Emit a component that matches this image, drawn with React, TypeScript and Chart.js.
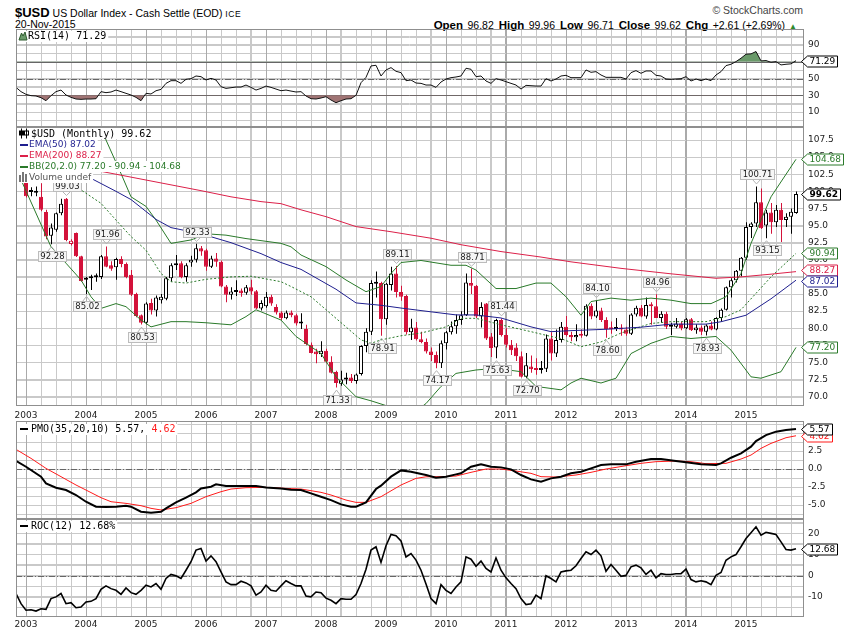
import React, { useEffect, useRef } from 'react';
import { Chart, registerables } from 'chart.js';

Chart.register(...registerables);

// ---------------- data ----------------
const symbol = '$USD';
const title = 'US Dollar Index - Cash Settle (EOD)';
const exchange = 'ICE';
const asOf = '20-Nov-2015';
const yearLabels = ['2003', '2004', '2005', '2006', '2007', '2008', '2009', '2010', '2011', '2012', '2013', '2014', '2015'];

// monthly candles, Nov 2002 (index 0) .. Nov 2015 (index 156)
const openP = [
  105.4, 106.3, 101.9, 100.0, 99.8, 99.2, 97.0, 93.5, 94.4, 96.8,
  98.9, 92.3, 93.9, 90.5, 87.1, 87.3, 87.45, 87.5, 90.5, 89.2,
  88.9, 90.1, 89.4, 87.8, 85.0, 81.9, 80.8, 83.7, 82.6, 84.1,
  84.3, 87.3, 89.2, 89.5, 87.5, 89.6, 90.0, 91.7, 91.4, 89.0,
  90.2, 89.7, 86.1, 84.9, 85.3, 85.5, 85.2, 86.0, 85.4, 82.9,
  83.2, 84.6, 83.1, 82.3, 81.45, 82.3, 81.9, 80.7, 79.9, 77.6,
  76.6, 76.2, 76.7, 75.1, 73.6, 71.9, 72.5, 72.8, 72.3, 73.3,
  77.4, 79.5, 86.5, 86.6, 81.3, 86.3, 88.0, 85.3, 84.7, 79.4,
  80.1, 78.4, 78.0, 76.6, 76.1, 74.9, 77.8, 79.4, 80.3, 81.2,
  81.9, 86.6, 86.2, 81.7, 83.6, 78.8, 77.2, 81.2, 79.0, 77.6,
  77.2, 75.9, 72.9, 74.4, 74.2, 73.9, 74.1, 78.5, 76.3, 78.3,
  80.2, 79.0, 78.7, 79.0, 78.9, 83.3, 81.7, 82.6, 81.2, 80.0,
  79.9, 80.1, 79.8, 79.2, 82.0, 83.0, 81.7, 83.4, 83.2, 81.5,
  82.1, 80.4, 80.2, 80.7, 80.0, 81.3, 79.7, 80.1, 79.5, 80.4,
  79.8, 81.5, 82.7, 86.0, 87.0, 88.4, 90.3, 94.8, 95.3, 98.4,
  95.0, 96.9, 95.5, 97.3, 95.8, 96.3, 96.82,
];
const highP = [
  107.0, 106.5, 102.1, 100.6, 100.7, 101.2, 97.3, 95.3, 96.9, 98.9,
  99.03, 93.0, 94.0, 90.6, 87.5, 87.8, 88.0, 90.7, 91.96, 89.8,
  90.3, 90.5, 89.6, 88.5, 85.2, 82.0, 83.8, 84.3, 84.8, 85.0,
  87.5, 89.5, 90.7, 89.8, 89.5, 90.6, 92.33, 92.0, 91.6, 90.6,
  91.0, 89.9, 86.3, 86.0, 87.0, 85.8, 86.3, 87.1, 85.6, 84.1,
  85.3, 84.9, 83.5, 82.5, 82.6, 82.6, 82.1, 82.2, 80.5, 77.9,
  77.0, 78.1, 77.0, 75.9, 73.8, 73.8, 73.5, 73.3, 73.4, 77.5,
  80.0, 87.0, 88.3, 86.8, 86.6, 89.0, 89.11, 86.2, 84.9, 81.4,
  80.9, 79.5, 78.5, 77.2, 76.6, 78.2, 79.6, 81.0, 82.0, 82.5,
  88.0, 88.71, 86.3, 83.8, 83.7, 79.3, 81.4, 81.44, 80.0, 78.3,
  77.8, 76.6, 76.4, 76.0, 75.6, 75.2, 79.1, 79.4, 79.8, 80.9,
  81.8, 79.5, 80.6, 79.8, 83.5, 83.6, 84.10, 83.0, 81.6, 81.0,
  81.5, 80.6, 80.2, 82.2, 83.3, 83.4, 84.5, 83.8, 84.96, 82.5,
  82.4, 80.8, 81.5, 81.0, 81.5, 81.5, 80.6, 80.4, 80.6, 81.0,
  81.6, 82.9, 86.1, 87.3, 88.5, 90.4, 95.5, 95.5, 100.71, 100.4,
  97.3, 98.3, 98.0, 98.3, 96.8, 97.5, 99.96,
];
const lowP = [
  105.0, 101.8, 99.1, 99.3, 99.3, 97.1, 93.0, 92.28, 94.1, 96.5,
  92.7, 92.1, 90.4, 86.8, 85.02, 85.6, 86.8, 87.2, 88.9, 88.4,
  87.1, 88.9, 87.3, 84.7, 81.6, 80.53, 80.6, 82.0, 81.7, 83.6,
  84.1, 86.8, 88.5, 87.3, 86.8, 89.0, 89.6, 90.6, 88.4, 88.8,
  89.0, 86.0, 83.8, 84.2, 84.7, 84.6, 84.9, 84.9, 82.8, 82.6,
  83.0, 83.3, 82.0, 81.2, 81.3, 81.6, 80.4, 79.9, 77.5, 76.3,
  74.9, 75.8, 74.9, 73.4, 71.33, 71.6, 71.8, 72.0, 71.9, 73.1,
  76.5, 79.0, 84.5, 78.91, 80.5, 85.5, 84.5, 84.0, 79.1, 78.3,
  78.2, 77.8, 76.3, 75.2, 74.17, 74.2, 76.9, 79.1, 79.2, 80.5,
  81.8, 85.0, 81.5, 80.1, 78.3, 75.8, 75.63, 78.8, 77.2, 76.1,
  75.2, 72.8, 72.70, 73.5, 73.2, 73.4, 73.6, 75.3, 75.8, 77.9,
  78.8, 78.1, 78.1, 78.6, 78.8, 81.3, 81.5, 80.9, 78.60, 79.2,
  79.6, 78.9, 78.9, 79.0, 81.7, 81.6, 81.4, 80.5, 81.6, 80.8,
  79.9, 79.0, 80.0, 79.7, 79.9, 79.6, 79.2, 79.0, 78.93, 79.7,
  79.7, 81.0, 82.6, 84.5, 86.7, 87.6, 90.0, 93.2, 94.8, 94.5,
  93.15, 93.8, 94.8, 92.6, 94.8, 93.8, 96.71,
];
const closeP = [
  106.3, 102.0, 99.3, 99.9, 99.9, 97.3, 93.4, 94.7, 96.8, 98.2,
  92.9, 92.8, 90.5, 86.9, 87.3, 87.5, 87.6, 90.5, 89.0, 88.7,
  90.1, 89.4, 87.5, 84.9, 81.8, 80.8, 83.6, 82.6, 84.5, 84.6,
  87.3, 89.2, 89.5, 87.5, 89.2, 90.0, 91.7, 91.2, 89.0, 90.2,
  89.7, 86.1, 84.9, 85.35, 85.45, 85.1, 86.0, 85.35, 82.9, 83.7,
  84.6, 83.6, 82.3, 81.45, 82.3, 81.9, 80.7, 80.8, 77.7, 76.4,
  76.2, 76.7, 75.1, 73.5, 72.0, 72.5, 72.8, 72.3, 73.25, 77.4,
  79.5, 86.6, 86.7, 81.3, 86.5, 88.0, 85.3, 84.6, 79.4, 80.1,
  78.4, 78.0, 76.6, 76.1, 74.9, 77.8, 79.4, 80.3, 81.2, 81.9,
  86.7, 86.2, 81.7, 83.1, 78.5, 77.1, 81.2, 79.0, 77.6, 76.8,
  75.9, 72.9, 74.6, 74.0, 73.9, 74.1, 78.5, 76.3, 78.3, 80.2,
  79.0, 78.7, 79.0, 78.9, 83.3, 81.7, 82.6, 81.2, 79.9, 79.85,
  80.1, 79.8, 79.2, 82.0, 83.0, 81.7, 83.4, 83.2, 81.5, 82.1,
  80.2, 80.2, 80.7, 80.0, 81.3, 79.7, 80.1, 79.5, 80.4, 79.8,
  81.5, 82.7, 86.0, 87.0, 88.4, 90.3, 94.8, 95.3, 98.4, 94.6,
  96.9, 95.5, 97.3, 95.8, 96.3, 97.01, 99.62,
];

// overlays [monthIndex, value]
const ema50Pts = [[0, 107.5], [15, 101.9], [20, 100.0], [23, 98.8], [28, 95.9], [31, 94.7], [37, 93.8], [43, 92.5], [49, 90.9], [53, 89.6], [57, 88.6], [64, 85.7], [68, 83.7], [73, 83.35], [77, 82.95], [83, 82.4], [88, 81.95], [92, 81.94], [97, 81.5], [103, 80.2], [107, 79.5], [111, 79.65], [118, 79.85], [125, 80.15], [131, 80.6], [138, 80.6], [141, 80.95], [146, 81.9], [151, 84.3], [156, 87.02]];
const ema200Pts = [[0, 105.3], [20, 102.5], [37, 100.1], [43, 99.2], [49, 98.5], [53, 98.2], [57, 97.3], [62, 96.3], [68, 94.85], [75, 94.1], [83, 93.15], [89, 92.2], [97, 91.2], [105, 90.4], [111, 89.7], [121, 88.75], [131, 87.95], [140, 87.3], [145, 87.5], [151, 87.9], [156, 88.27]];
const bbUpperPts = [[17, 110.5], [18, 107.5], [21, 102.6], [23, 99.2], [26, 97.8], [28, 95.8], [31, 92.4], [35, 92.9], [38, 93.8], [42, 93.6], [46, 93.1], [53, 92.4], [55, 91.9], [57, 90.7], [62, 89.0], [66, 87.05], [70, 85.34], [73, 86.1], [75, 88.0], [77, 89.6], [81, 89.9], [87, 89.2], [90, 89.2], [92, 88.5], [96, 85.8], [100, 85.8], [104, 86.6], [107, 86.6], [110, 84.6], [113, 81.9], [115, 83.9], [119, 84.4], [123, 84.1], [127, 84.4], [131, 84.1], [135, 83.6], [139, 83.6], [142, 84.6], [145, 88.0], [147, 92.4], [151, 99.2], [156, 104.68]];
const bbMidPts = [[8, 102.8], [12, 100.7], [17, 98.25], [20, 95.8], [23, 93.4], [26, 91.4], [29, 88.0], [31, 86.8], [34, 86.6], [38, 87.15], [43, 87.5], [47, 87.6], [53, 86.8], [55, 86.1], [59, 84.6], [64, 81.45], [69, 78.3], [71, 77.8], [73, 78.3], [77, 78.9], [81, 79.3], [86, 80.2], [89, 81.45], [92, 81.45], [97, 80.5], [103, 79.5], [107, 78.8], [109, 78.5], [113, 77.3], [117, 78.0], [121, 79.3], [127, 80.7], [131, 80.96], [138, 80.96], [142, 81.7], [145, 82.7], [148, 85.1], [151, 87.5], [156, 90.94]];
const bbLowerPts = [[1, 101.7], [7, 91.9], [10, 89.5], [13, 87.05], [15, 84.6], [17, 82.9], [20, 83.6], [22, 83.15], [25, 81.2], [27, 80.2], [31, 80.96], [34, 80.96], [38, 80.8], [43, 80.5], [46, 81.7], [48, 82.7], [53, 81.2], [56, 78.8], [61, 76.3], [64, 72.9], [68, 70.0], [71, 69.4], [74, 68.7], [77, 67.6], [80, 67.9], [82, 69.0], [85, 71.5], [88, 73.4], [92, 73.9], [96, 74.15], [101, 73.65], [104, 71.5], [107, 71.2], [109, 71.0], [111, 72.0], [113, 72.7], [117, 72.0], [120, 72.7], [123, 76.3], [127, 77.8], [131, 78.8], [135, 78.5], [140, 78.8], [143, 76.8], [147, 72.9], [149, 72.7], [153, 73.65], [156, 77.2]];

const rsiVals = [
  39.4, 34.3, 31.1, 29.5, 29.1, 27.1, 23.5, 29.5, 34.3, 36.2,
  30.3, 27.5, 25.5, 25.1, 25.5, 25.5, 25.9, 34.3, 33.1, 33.9,
  36.2, 34.3, 32.3, 30.3, 27.5, 23.5, 32.3, 31.5, 35.4, 37.0,
  44.2, 47.4, 47.4, 44.2, 49.0, 49.8, 53.0, 52.2, 48.2, 50.2,
  48.2, 40.2, 38.2, 39.0, 39.8, 39.8, 42.2, 39.4, 36.2, 38.2,
  41.0, 39.4, 37.4, 35.4, 36.2, 35.0, 33.9, 34.3, 29.1, 25.9,
  25.5, 26.7, 28.3, 24.3, 21.1, 23.5, 25.5, 25.9, 29.9, 45.0,
  51.4, 65.0, 65.8, 53.0, 60.2, 63.0, 58.6, 57.0, 47.4, 48.2,
  44.6, 44.2, 42.2, 42.2, 39.4, 45.8, 49.4, 51.0, 51.8, 53.0,
  62.2, 61.0, 52.2, 53.0, 47.0, 44.2, 49.8, 48.2, 46.2, 44.2,
  42.2, 37.4, 41.8, 41.4, 41.0, 41.0, 49.8, 47.0, 49.4, 53.0,
  53.8, 51.0, 51.0, 51.0, 60.2, 57.4, 58.2, 54.2, 51.4, 51.4,
  51.4, 51.4, 49.4, 57.0, 59.4, 56.2, 59.0, 59.0, 53.8, 53.0,
  49.4, 49.0, 49.4, 49.8, 52.2, 47.0, 49.4, 47.4, 49.4, 47.4,
  54.2, 58.2, 65.4, 67.0, 70.2, 74.2, 79.0, 79.4, 82.2, 71.0,
  71.4, 69.4, 70.2, 66.2, 67.0, 67.5, 71.29,
];
const rocVals = [
  -8.5, -13.3, -16.4, -16.2, -16.8, -15.7, -16.0, -10.9, -10.1, -8.5,
  -13.3, -12.8, -15.2, -14.9, -12.5, -12.2, -10.9, -6.5, -4.9, -6.2,
  -7.0, -8.9, -5.9, -8.1, -8.9, -7.0, -4.6, -5.4, -3.8, -6.5,
  -1.4, 0.5, -0.1, -1.4, 2.5, 6.5, 12.0, 12.8, 6.8, 9.3,
  6.5, 1.7, -3.0, -4.3, -4.3, -2.7, -3.5, -4.9, -9.3, -7.8,
  -4.6, -7.0, -7.4, -4.9, -2.5, -3.8, -4.9, -4.9, -9.7, -10.1,
  -7.8, -8.1, -10.7, -11.7, -13.3, -10.9, -11.2, -11.2, -9.0, -3.8,
  3.0, 12.0, 13.6, 6.2, 14.1, 19.4, 18.8, 16.3, 8.8, 10.4,
  7.3, 2.5, -4.0, -10.9, -13.3, -4.3, -7.0, -8.5, -5.4, -3.0,
  8.8, 7.7, 4.4, 6.8, 3.3, 1.7, 8.3, 2.5, -1.1, -3.8,
  -6.2, -10.9, -13.7, -13.3, -9.3, -10.9, -0.1, -1.4, -3.0, 1.7,
  2.2, 2.5, 4.6, 8.0, 11.2, 9.9, 12.0, 9.3, 2.0, 5.2,
  2.5, -0.4, 0.1, 4.1, 4.9, 3.6, 0.5, 2.5, -1.1, 0.9,
  0.5, 0.5, 0.8, 0.9, 3.0, -1.9, -3.0, -2.5, -3.0, -4.3,
  0.1, 1.4, 7.2, 8.8, 9.9, 13.6, 17.5, 20.2, 23.0, 19.1,
  20.4, 19.9, 19.4, 15.9, 12.3, 12.0, 12.68,
];
const pmoPts = [[0, 1.15], [2, 0.32], [5, -1.07], [6, -1.99], [8, -2.59], [10, -2.92], [12, -3.61], [14, -4.54], [16, -5.23], [18, -5.28], [20, -5.23], [22, -5.09], [23, -5.23], [25, -5.93], [27, -6.06], [29, -5.93], [30, -5.46], [32, -4.63], [34, -3.98], [36, -3.24], [37, -2.69], [39, -2.45], [40, -2.13], [42, -2.36], [45, -2.36], [48, -2.36], [50, -2.55], [53, -2.69], [55, -2.87], [57, -2.92], [59, -3.38], [61, -3.84], [63, -4.31], [65, -4.91], [67, -5.23], [68, -5.23], [70, -4.63], [72, -2.78], [73, -2.31], [75, -1.06], [77, -0.19], [79, -0.37], [82, -0.83], [84, -1.2], [86, -1.06], [88, -0.74], [89, -0.6], [91, 0.32], [93, 0.65], [95, 0.32], [97, 0.23], [99, -0.05], [101, -0.83], [103, -1.44], [105, -1.76], [107, -1.3], [109, -1.06], [111, -0.6], [113, -0.37], [115, 0.09], [117, 0.56], [119, 0.65], [122, 0.65], [124, 1.02], [127, 1.39], [129, 1.39], [132, 1.11], [134, 0.93], [137, 0.65], [140, 0.56], [141, 0.79], [143, 1.57], [145, 2.18], [147, 3.1], [148, 3.89], [150, 4.72], [152, 5.19], [154, 5.42], [156, 5.57]];
const pmoSignalPts = [[0, 2.73], [3, 1.48], [6, 0.09], [9, -1.06], [12, -2.22], [14, -2.92], [17, -3.98], [19, -4.54], [22, -4.77], [25, -5.09], [27, -5.46], [29, -5.69], [32, -5.37], [35, -4.77], [38, -3.84], [41, -3.15], [43, -2.78], [46, -2.59], [50, -2.55], [54, -2.69], [57, -2.78], [61, -3.24], [63, -3.61], [66, -4.31], [68, -4.63], [70, -4.63], [73, -3.84], [77, -2.22], [80, -1.3], [82, -1.08], [85, -1.06], [88, -0.97], [91, -0.46], [94, 0.0], [97, 0.0], [100, -0.28], [103, -0.6], [105, -1.06], [108, -1.11], [112, -0.83], [115, -0.46], [118, 0.0], [122, 0.46], [125, 0.79], [128, 1.02], [132, 1.11], [135, 1.02], [138, 0.74], [142, 0.79], [145, 1.39], [147, 1.94], [149, 2.87], [151, 3.56], [154, 4.35], [156, 4.62]];

const peakIdx = [10, 18, 36, 76, 91, 97, 116, 128, 148];
const troughIdx = [7, 14, 25, 64, 73, 84, 96, 102, 118, 138, 150];

const priceTicks = [70, 72.5, 75, 77.5, 80, 82.5, 85, 87.5, 90, 92.5, 95, 97.5, 100, 102.5, 105, 107.5];
const rsiGrid = [0, 10, 20, 30, 40, 50, 60, 70, 80, 90, 100];
const rsiLabels = [10, 30, 50, 70, 90];
const pmoGrid = [-6.25, -5, -3.75, -2.5, -1.25, 0, 1.25, 2.5, 3.75, 5, 6.25];
const pmoLabels = [-5, -2.5, 0, 2.5, 5];
const rocGrid = [-15, -10, -5, 0, 5, 10, 15, 20, 25];
const rocLabels = [-10, 0, 10, 20];

// ---------------- style ----------------
const SANS = '"DejaVu Sans", Verdana, sans-serif';
const MONO = '"DejaVu Sans Mono", monospace';
const ARIAL = '"Liberation Sans", Arial, sans-serif';
const RED = '#d3123a';
const BLACK = '#000000';
const NAVY = '#1f1f8f';
const CRIMSON = '#dc2049';
const GREEN = '#2a7a2a';
const GRID = '#c9c9c9';
const GRID_YEAR = '#aaaaaa';
const FRAME = '#8f8f8f';
const REF = '#666666';
const RSI_HI = '#6a9a6a';
const RSI_LO = '#a07474';
const PLOT_LEFT = 16;
const AXIS_W = 47;
const X_MIN = 0;
const X_MAX = 157.4;
const FIRST_JAN = 2;

const last = (a: any[]) => a[a.length - 1];
const lastV = (pts: number[][]) => pts[pts.length - 1][1];
const toXY = (pts: number[][]) => pts.map(([x, y]) => ({ x, y }));
const seriesXY = (vals: number[]) => vals.map((y, x) => ({ x, y }));
const isYearTick = (v: number) => (v - FIRST_JAN) % 12 === 0;

Chart.defaults.font.family = SANS;

function makeX(labels: boolean, height: number, pad: number) {
  return {
    type: 'linear', min: X_MIN, max: X_MAX, offset: false, position: 'bottom',
    afterBuildTicks: (ax: any) => {
      const t: any[] = [];
      for (let v = FIRST_JAN; v <= X_MAX; v += 3) t.push({ value: v });
      ax.ticks = t;
    },
    ticks: {
      display: labels, autoSkip: false, maxRotation: 0, minRotation: 0, padding: pad,
      color: '#222', font: { family: SANS, size: 9 },
      callback: (v: number) => (isYearTick(v) ? (yearLabels[(v - FIRST_JAN) / 12] || '') : ''),
    },
    grid: {
      display: true, drawTicks: false, offset: false, lineWidth: 1, drawOnChartArea: true,
      color: (c: any) => (c.tick && isYearTick(c.tick.value) ? GRID_YEAR : GRID),
    },
    border: { display: false },
    afterFit: (ax: any) => {
      ax.height = height;
      ax.paddingLeft = 0; ax.paddingRight = 0; ax.paddingTop = 0; ax.paddingBottom = 0;
    },
  };
}

function makeY(min: number, max: number, grid: number[], label: (v: number) => string) {
  return {
    type: 'linear', position: 'right', min, max,
    afterBuildTicks: (ax: any) => { ax.ticks = grid.map((v) => ({ value: v })); },
    ticks: { autoSkip: false, padding: 5, color: '#222', font: { family: SANS, size: 9 }, callback: (v: number) => label(v) },
    grid: { display: true, drawTicks: false, lineWidth: 1, color: GRID, drawOnChartArea: true },
    border: { display: false },
    afterFit: (ax: any) => {
      ax.width = AXIS_W;
      ax.paddingLeft = 0; ax.paddingRight = 0; ax.paddingTop = 0; ax.paddingBottom = 0;
    },
  };
}

const baseOptions = () => ({
  responsive: false,
  maintainAspectRatio: false,
  animation: false,
  devicePixelRatio: 1,
  events: [],
  layout: { padding: { left: PLOT_LEFT, right: 0, top: 0, bottom: 0 } },
  plugins: { legend: { display: false }, tooltip: { enabled: false }, filler: { propagate: false } },
});

// ---------------- plugins ----------------
// grid lines at the ticks of the chart's own x / y scales
const gridPlugin = {
  id: 'panelGrid',
  beforeDatasetsDraw(chart: any) {
    const { ctx, chartArea: a, scales } = chart;
    ctx.save();
    ctx.setLineDash([]);
    ctx.globalAlpha = 1;
    ctx.lineWidth = 1;
    for (const t of scales.y.ticks) {
      const py = Math.round(scales.y.getPixelForValue(t.value)) + 0.5;
      if (!(py >= a.top && py <= a.bottom)) continue;
      ctx.strokeStyle = GRID;
      ctx.beginPath();
      ctx.moveTo(a.left, py);
      ctx.lineTo(a.right, py);
      ctx.stroke();
    }
    for (const t of scales.x.ticks) {
      const px = Math.round(scales.x.getPixelForValue(t.value)) + 0.5;
      ctx.strokeStyle = isYearTick(t.value) ? GRID_YEAR : GRID;
      ctx.beginPath();
      ctx.moveTo(px, a.top);
      ctx.lineTo(px, a.bottom);
      ctx.stroke();
    }
    ctx.restore();
  },
};

const framePlugin = {
  id: 'frame',
  afterDraw(chart: any) {
    const { ctx, chartArea: a } = chart;
    ctx.save();
    ctx.strokeStyle = FRAME;
    ctx.lineWidth = 1;
    ctx.strokeRect(a.left + 0.5, a.top + 0.5, a.right - a.left, a.bottom - a.top - 1);
    ctx.restore();
  },
};

function refLinesPlugin(lines: { v: number; dash: number[] }[]) {
  return {
    id: 'refLines',
    beforeDatasetsDraw(chart: any) {
      const { ctx, chartArea: a, scales } = chart;
      ctx.save();
      ctx.strokeStyle = REF;
      ctx.lineWidth = 1;
      for (const l of lines) {
        const py = Math.round(scales.y.getPixelForValue(l.v)) + 0.5;
        ctx.setLineDash(l.dash);
        ctx.beginPath();
        ctx.moveTo(a.left, py);
        ctx.lineTo(a.right, py);
        ctx.stroke();
      }
      ctx.restore();
    },
  };
}

function valueBoxesPlugin(items: { v: number; text: string; color: string; bold?: boolean }[], separate = false) {
  return {
    id: 'valueBoxes',
    afterDraw(chart: any) {
      const { ctx, chartArea: a, scales } = chart;
      ctx.save();
      const H = 11;
      const pos = items.map((it) => ({ ...it, y: scales.y.getPixelForValue(it.v) }));
      if (separate) {
        const s = [...pos].sort((p, q) => p.y - q.y);
        for (let k = 0; k < 6; k++) {
          for (let j = 1; j < s.length; j++) {
            const d = s[j].y - s[j - 1].y;
            if (d < H) { const m = (H - d) / 2; s[j - 1].y -= m; s[j].y += m; }
          }
        }
      }
      for (const it of pos) {
        ctx.font = `${it.bold ? 'bold ' : ''}9px ${SANS}`;
        const tw = ctx.measureText(it.text).width;
        const yc = Math.round(it.y) + 0.5;
        const x0 = a.right - 1.5;
        const x1 = a.right + 4.5;
        const x2 = Math.round(x1 + tw + 4) + 0.5;
        ctx.beginPath();
        ctx.moveTo(x0, yc);
        ctx.lineTo(x1, yc - H / 2);
        ctx.lineTo(x2, yc - H / 2);
        ctx.lineTo(x2, yc + H / 2);
        ctx.lineTo(x1, yc + H / 2);
        ctx.closePath();
        ctx.fillStyle = '#ffffff';
        ctx.fill();
        ctx.strokeStyle = it.color;
        ctx.lineWidth = 1;
        ctx.stroke();
        ctx.fillStyle = it.color;
        ctx.textAlign = 'left';
        ctx.textBaseline = 'middle';
        ctx.fillText(it.text, x1 + 2, yc + 0.5);
      }
      ctx.restore();
    },
  };
}

function drawIcon(ctx: any, kind: string, color: string, y: number) {
  ctx.save();
  if (kind === 'dash') {
    ctx.fillStyle = color;
    ctx.fillRect(20, Math.round(y) - 1, 8, 2);
  } else if (kind === 'candle') {
    ctx.fillStyle = '#000';
    ctx.fillRect(21, y - 5, 1, 10);
    ctx.fillRect(19, y - 3, 5, 5);
    ctx.fillRect(26, y - 5, 1, 10);
    ctx.strokeStyle = '#000';
    ctx.lineWidth = 1;
    ctx.strokeRect(24.5, y - 2.5, 4, 4);
  } else if (kind === 'vol') {
    ctx.fillStyle = '#777';
    ctx.fillRect(19, y - 2, 2, 7);
    ctx.fillRect(22, y - 5, 2, 10);
    ctx.fillRect(25, y - 3, 2, 8);
  } else if (kind === 'mountain') {
    ctx.beginPath();
    ctx.moveTo(19, y + 4);
    ctx.lineTo(21.5, y - 3);
    ctx.lineTo(23, y);
    ctx.lineTo(25, y - 4);
    ctx.lineTo(27, y + 4);
    ctx.closePath();
    ctx.fillStyle = '#6c9c6c';
    ctx.fill();
    ctx.strokeStyle = '#2c5a2c';
    ctx.lineWidth = 1;
    ctx.stroke();
  }
  ctx.restore();
}

type Part = { t: string; c: string };
type Row = { y: number; x: number; icon: string; iconColor?: string; font: string; parts: Part[] };

function legendPlugin(rows: Row[]) {
  return {
    id: 'legendRows',
    afterDatasetsDraw(chart: any) {
      const { ctx, chartArea: a } = chart;
      ctx.save();
      for (const r of rows) {
        ctx.font = r.font;
        let w = 0;
        for (const p of r.parts) w += ctx.measureText(p.t).width;
        ctx.fillStyle = '#ffffff';
        ctx.fillRect(a.left + 1, Math.round(r.y - 5.5), r.x + w + 2 - (a.left + 1), 11);
        drawIcon(ctx, r.icon, r.iconColor || '#000', r.y);
        let x = r.x;
        ctx.textAlign = 'left';
        ctx.textBaseline = 'middle';
        for (const p of r.parts) {
          ctx.fillStyle = p.c;
          ctx.fillText(p.t, x, r.y + 0.5);
          x += ctx.measureText(p.t).width;
        }
      }
      ctx.restore();
    },
  };
}

const annotationPlugin = {
  id: 'hiLoLabels',
  afterDatasetsDraw(chart: any) {
    const { ctx, scales } = chart;
    ctx.save();
    ctx.font = `8.5px ${SANS}`;
    ctx.textAlign = 'center';
    ctx.textBaseline = 'middle';
    ctx.lineWidth = 1;
    const draw = (i: number, v: number, up: boolean) => {
      const px = Math.round(scales.x.getPixelForValue(i)) + 0.5;
      const py = scales.y.getPixelForValue(v);
      const text = v.toFixed(2);
      const bw = Math.round(ctx.measureText(text).width) + 4;
      const bh = 10;
      const tipY = up ? py - 2.5 : py + 2.5;
      const baseY = Math.round(up ? py - 7 : py + 7) + 0.5;
      const top = up ? baseY - bh : baseY;
      const left = Math.round(px - bw / 2) + 0.5;
      ctx.fillStyle = '#f6f6f6';
      ctx.fillRect(left, top, bw, bh);
      ctx.strokeStyle = '#bcbcbc';
      ctx.strokeRect(left, top, bw, bh);
      ctx.strokeStyle = '#b4b4b4';
      ctx.beginPath();
      ctx.moveTo(px - 4, baseY);
      ctx.lineTo(px, tipY);
      ctx.lineTo(px + 4, baseY);
      ctx.stroke();
      ctx.fillStyle = '#1a1a1a';
      ctx.fillText(text, left + bw / 2, top + bh / 2 + 0.5);
    };
    peakIdx.forEach((i) => draw(i, highP[i], true));
    troughIdx.forEach((i) => draw(i, lowP[i], false));
    ctx.restore();
  },
};

// ---------------- chart configs ----------------
const candleStroke = closeP.map((c, i) => (i > 0 && c < closeP[i - 1] ? RED : BLACK));
const candleFill = closeP.map((c, i) => (c > openP[i] ? '#ffffff' : candleStroke[i]));

function lineDs(pts: any[], color: string, width = 1, dash: number[] = [], order = 0) {
  return { type: 'line', data: pts, borderColor: color, borderWidth: width, borderDash: dash, pointRadius: 0, tension: 0, fill: false, order };
}

function rsiConfig() {
  const d = seriesXY(rsiVals);
  return {
    type: 'line',
    data: {
      datasets: [
        { data: d, borderColor: '#111', borderWidth: 1, pointRadius: 0, tension: 0, fill: { target: { value: 70 }, above: RSI_HI, below: 'rgba(0,0,0,0)' }, order: 0 },
        { data: d, borderColor: 'rgba(0,0,0,0)', borderWidth: 0, pointRadius: 0, tension: 0, fill: { target: { value: 30 }, above: 'rgba(0,0,0,0)', below: RSI_LO }, order: 1 },
      ],
    },
    options: {
      ...baseOptions(),
      scales: {
        x: makeX(false, 0, 0),
        y: makeY(-7.9, 109.1, rsiGrid, (v) => (rsiLabels.includes(v) ? String(v) : '')),
      },
    },
    plugins: [
      gridPlugin,
      refLinesPlugin([{ v: 70, dash: [] }, { v: 30, dash: [] }, { v: 50, dash: [6, 2, 1, 2] }]),
      legendPlugin([{ y: 7, x: 28, icon: 'mountain', font: `10px ${MONO}`, parts: [{ t: `RSI(14) ${last(rsiVals).toFixed(2)}`, c: '#000' }] }]),
      framePlugin,
      valueBoxesPlugin([{ v: last(rsiVals), text: last(rsiVals).toFixed(2), color: '#000' }]),
    ],
  };
}

function mainConfig() {
  const body = closeP.map((c, i) => ({ x: i, y: [Math.min(openP[i], c), Math.max(openP[i], c)] }));
  const wick = closeP.map((c, i) => ({ x: i, y: [lowP[i], highP[i]] }));
  const c = last(closeP);
  return {
    type: 'bar',
    data: {
      datasets: [
        lineDs(toXY(ema200Pts), CRIMSON),
        lineDs(toXY(ema50Pts), NAVY),
        lineDs(toXY(bbUpperPts), GREEN),
        lineDs(toXY(bbMidPts), GREEN, 1, [2, 2]),
        lineDs(toXY(bbLowerPts), GREEN),
        { type: 'bar', xAxisID: 'xw', data: wick, backgroundColor: candleStroke, borderWidth: 0, barThickness: 1, grouped: false, inflateAmount: 0, order: 2 },
        { type: 'bar', data: body, backgroundColor: candleFill, borderColor: candleStroke, borderWidth: 1, borderSkipped: false, barThickness: 4, grouped: false, inflateAmount: 0, minBarLength: 2, order: 1 },
      ],
    },
    options: {
      ...baseOptions(),
      scales: {
        x: makeX(true, 15, 4),
        xw: { type: 'linear', min: X_MIN - 0.1, max: X_MAX - 0.1, display: false, offset: false },
        y: makeY(68.64, 109.4, priceTicks, (v) => v.toFixed(1)),
      },
    },
    plugins: [
      gridPlugin,
      annotationPlugin,
      legendPlugin([
        { y: 6.5, x: 31, icon: 'candle', font: `10px ${MONO}`, parts: [{ t: `${symbol} (Monthly) ${c.toFixed(2)}`, c: '#000' }] },
        { y: 17.5, x: 29, icon: 'dash', iconColor: NAVY, font: `9px ${SANS}`, parts: [{ t: `EMA(50) ${lastV(ema50Pts).toFixed(2)}`, c: NAVY }] },
        { y: 28.5, x: 29, icon: 'dash', iconColor: CRIMSON, font: `9px ${SANS}`, parts: [{ t: `EMA(200) ${lastV(ema200Pts).toFixed(2)}`, c: CRIMSON }] },
        { y: 39.5, x: 29, icon: 'dash', iconColor: GREEN, font: `9px ${SANS}`, parts: [{ t: `BB(20,2.0) ${lastV(bbLowerPts).toFixed(2)} - ${lastV(bbMidPts).toFixed(2)} - ${lastV(bbUpperPts).toFixed(2)}`, c: GREEN }] },
        { y: 50, x: 29, icon: 'vol', font: `9px ${SANS}`, parts: [{ t: 'Volume undef', c: '#555' }] },
      ]),
      framePlugin,
      valueBoxesPlugin([
        { v: lastV(bbUpperPts), text: lastV(bbUpperPts).toFixed(2), color: GREEN },
        { v: c, text: c.toFixed(2), color: '#000', bold: true },
        { v: lastV(bbMidPts), text: lastV(bbMidPts).toFixed(2), color: GREEN },
        { v: lastV(ema200Pts), text: lastV(ema200Pts).toFixed(2), color: CRIMSON },
        { v: lastV(ema50Pts), text: lastV(ema50Pts).toFixed(2), color: NAVY },
        { v: lastV(bbLowerPts), text: lastV(bbLowerPts).toFixed(2), color: GREEN },
      ], true),
    ],
  };
}

function pmoConfig() {
  return {
    type: 'line',
    data: {
      datasets: [
        lineDs(toXY(pmoPts), '#000', 2, [], 0),
        lineDs(toXY(pmoSignalPts), '#ff1a1a', 1, [], 1),
      ],
    },
    options: {
      ...baseOptions(),
      scales: {
        x: makeX(false, 0, 0),
        y: makeY(-6.94, 6.67, pmoGrid, (v) => (pmoLabels.includes(v) ? v.toFixed(1) : '')),
      },
    },
    plugins: [
      gridPlugin,
      refLinesPlugin([{ v: 0, dash: [6, 2, 1, 2] }]),
      legendPlugin([{ y: 8, x: 31, icon: 'dash', iconColor: '#000', font: `10px ${MONO}`, parts: [{ t: `PMO(35,20,10) ${lastV(pmoPts).toFixed(2)}, `, c: '#000' }, { t: lastV(pmoSignalPts).toFixed(2), c: '#ff1a1a' }] }]),
      framePlugin,
      valueBoxesPlugin([
        { v: lastV(pmoSignalPts), text: lastV(pmoSignalPts).toFixed(2), color: '#ff1a1a' },
        { v: lastV(pmoPts), text: lastV(pmoPts).toFixed(2), color: '#000' },
      ]),
    ],
  };
}

function rocConfig() {
  return {
    type: 'line',
    data: { datasets: [lineDs(seriesXY(rocVals), '#000', 1.6)] },
    options: {
      ...baseOptions(),
      scales: {
        x: makeX(true, 16, 2),
        y: makeY(-19.6, 26.7, rocGrid, (v) => (rocLabels.includes(v) ? String(v) : '')),
      },
    },
    plugins: [
      gridPlugin,
      refLinesPlugin([{ v: 0, dash: [6, 2, 1, 2] }]),
      legendPlugin([{ y: 7, x: 31, icon: 'dash', iconColor: '#000', font: `10px ${MONO}`, parts: [{ t: `ROC(12) ${last(rocVals).toFixed(2)}%`, c: '#000' }] }]),
      framePlugin,
      valueBoxesPlugin([{ v: last(rocVals), text: last(rocVals).toFixed(2), color: '#000' }]),
    ],
  };
}

// ---------------- components ----------------
function Panel({ top, height, make }: { top: number; height: number; make: () => any }) {
  const ref = useRef<HTMLCanvasElement>(null);
  useEffect(() => {
    const chart = new Chart(ref.current as HTMLCanvasElement, make());
    return () => chart.destroy();
  }, []);
  return (
    <div style={{ position: 'absolute', left: 0, top, width: 850, height }}>
      <canvas ref={ref} width={850} height={height} style={{ display: 'block', width: 850, height }} />
    </div>
  );
}

export default function App() {
  const o = last(openP), h = last(highP), l = last(lowP), c = last(closeP);
  const prev = closeP[closeP.length - 2];
  const chg = c - prev;
  const pct = (chg / prev) * 100;
  const lab: any = { fontWeight: 700, fontSize: 11.5 };
  const val: any = { fontSize: 10.5, marginRight: 5 };
  return (
    <div style={{ position: 'absolute', left: 0, top: 0, width: 850, height: 633, background: '#fff', overflow: 'hidden', fontFamily: ARIAL, color: '#000' }}>
      <div style={{ position: 'absolute', left: 15, top: 5, whiteSpace: 'nowrap', lineHeight: '14px' }}>
        <span style={{ fontWeight: 700, fontSize: 13 }}>{symbol}</span>
        <span style={{ fontSize: 10.5 }}> {title} </span>
        <span style={{ fontSize: 8.5, letterSpacing: 0.6 }}>{exchange}</span>
      </div>
      <div style={{ position: 'absolute', left: 15, top: 18, fontSize: 10.5, whiteSpace: 'nowrap', lineHeight: '12px' }}>{asOf}</div>
      <div style={{ position: 'absolute', right: 47, top: 4, fontSize: 10.5, color: '#444', whiteSpace: 'nowrap', lineHeight: '12px' }}>© StockCharts.com</div>
      <div style={{ position: 'absolute', right: 53, top: 17, whiteSpace: 'nowrap', lineHeight: '13px' }}>
        <span style={lab}>Open</span> <span style={val}>{o.toFixed(2)}</span>
        <span style={lab}>High</span> <span style={val}>{h.toFixed(2)}</span>
        <span style={lab}>Low</span> <span style={val}>{l.toFixed(2)}</span>
        <span style={lab}>Close</span> <span style={val}>{c.toFixed(2)}</span>
        <span style={lab}>Chg</span> <span style={{ fontSize: 10.5 }}>{(chg >= 0 ? '+' : '') + chg.toFixed(2)} ({(pct >= 0 ? '+' : '') + pct.toFixed(2)}%)</span>
        <span style={{ fontSize: 8, color: '#2e8b2e', marginLeft: 4 }}>▲</span>
      </div>
      <Panel top={29} height={98} make={rsiConfig} />
      <Panel top={127} height={294} make={mainConfig} />
      <Panel top={421} height={98} make={pmoConfig} />
      <Panel top={519} height={114} make={rocConfig} />
    </div>
  );
}
